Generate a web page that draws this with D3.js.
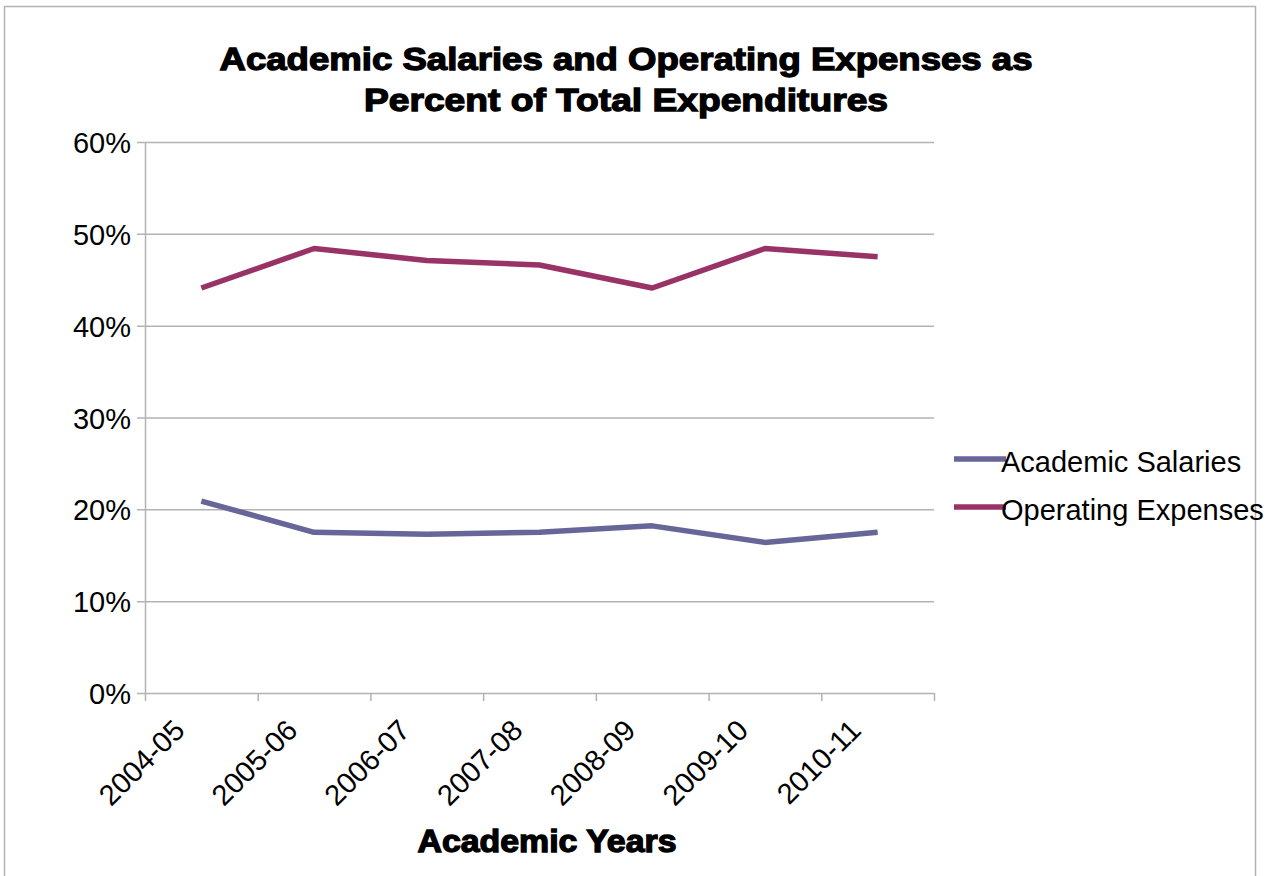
<!DOCTYPE html>
<html>
<head>
<meta charset="utf-8">
<script src="https://cdn.jsdelivr.net/npm/d3@7"></script>
<style>
  body { margin: 0; background: #fff; }
  text { font-family: "Liberation Sans", Arial, sans-serif; fill: #000; }
</style>
</head>
<body>
<svg id="chart" width="1275" height="876"></svg>
<script>
const YEARS = ['2004-05', '2005-06', '2006-07', '2007-08', '2008-09', '2009-10', '2010-11']
const SALARIES = [20.9, 17.5, 17.3, 17.5, 18.2, 16.4, 17.5]
const OPERATING = [44.1, 48.4, 47.1, 46.6, 44.1, 48.4, 47.5]
const Y_TICKS = [0, 10, 20, 30, 40, 50, 60]
const SERIES_NAMES = ['Academic Salaries', 'Operating Expenses']
const SERIES_COLORS = ['#666699', '#993366']

const svg = d3.select('#chart')
const grey = '#b3b3b3'

// outer frame
svg.append('rect')
  .attr('x', 4.5).attr('y', 6.5)
  .attr('width', 1251).attr('height', 900)
  .attr('fill', 'none').attr('stroke', grey).attr('stroke-width', 1.5)

const plot = { left: 145, right: 934, top: 142, bottom: 693 }

const x = d3.scaleBand().domain(YEARS).range([plot.left, plot.right]).padding(0)
const y = d3.scaleLinear().domain([0, 60]).range([plot.bottom, plot.top])

// gridlines
svg.append('g').selectAll('line')
  .data(Y_TICKS)
  .join('line')
  .attr('x1', plot.left - 8).attr('x2', plot.right)
  .attr('y1', d => y(d) + 0.5).attr('y2', d => y(d) + 0.5)
  .attr('stroke', grey).attr('stroke-width', 1.5)

// y axis line
svg.append('line')
  .attr('x1', plot.left + 0.5).attr('x2', plot.left + 0.5)
  .attr('y1', plot.top).attr('y2', plot.bottom)
  .attr('stroke', grey).attr('stroke-width', 1.5)

// y tick labels
svg.append('g').selectAll('text')
  .data(Y_TICKS)
  .join('text')
  .attr('x', 131)
  .attr('y', d => y(d) + 11)
  .attr('text-anchor', 'end')
  .style('font-size', '29px')
  .text(d => d + '%')

// x ticks at band edges
const edges = YEARS.map(d => x(d)).concat([plot.right])
svg.append('g').selectAll('line')
  .data(edges)
  .join('line')
  .attr('x1', d => d + 0.5).attr('x2', d => d + 0.5)
  .attr('y1', plot.bottom).attr('y2', plot.bottom + 8)
  .attr('stroke', grey).attr('stroke-width', 1.5)

// x labels
svg.append('g').selectAll('text')
  .data(YEARS)
  .join('text')
  .attr('transform', d => `translate(${x(d) + x.bandwidth() / 2 - 15},${plot.bottom + 39}) rotate(-45)`)
  .attr('text-anchor', 'end')
  .style('font-size', '29px')
  .text(d => d)

// lines
const line = d3.line()
  .x((d, i) => x(YEARS[i]) + x.bandwidth() / 2)
  .y(d => y(d))

;[SALARIES, OPERATING].forEach((vals, i) => {
  svg.append('path')
    .datum(vals)
    .attr('d', line)
    .attr('fill', 'none')
    .attr('stroke', SERIES_COLORS[i])
    .attr('stroke-width', 5.5)
    .attr('stroke-linejoin', 'round')
})

// legend
const legend = svg.append('g')
SERIES_NAMES.forEach((name, i) => {
  const ly = 459 + i * 48
  legend.append('line')
    .attr('x1', 954).attr('x2', 1006)
    .attr('y1', ly).attr('y2', ly)
    .attr('stroke', SERIES_COLORS[i]).attr('stroke-width', 5.5)
  legend.append('text')
    .attr('x', 1001).attr('y', ly + 13)
    .style('font-size', '29px')
    .text(name)
})

// titles
const title = ['Academic Salaries and Operating Expenses as', 'Percent of Total Expenditures']
const titleWidths = [813, 524]
svg.append('g').selectAll('text')
  .data(title)
  .join('text')
  .attr('x', 626)
  .attr('y', (d, i) => 70 + i * 41)
  .attr('text-anchor', 'middle')
  .attr('textLength', (d, i) => titleWidths[i])
  .attr('lengthAdjust', 'spacingAndGlyphs')
  .style('font-size', '32px')
  .style('font-weight', 'bold')
  .style('stroke', '#000').style('stroke-width', 1.3)
  .text(d => d)

svg.append('text')
  .attr('x', 547).attr('y', 852)
  .attr('text-anchor', 'middle')
  .attr('textLength', 259)
  .attr('lengthAdjust', 'spacingAndGlyphs')
  .style('font-size', '31px')
  .style('font-weight', 'bold')
  .style('stroke', '#000').style('stroke-width', 1.3)
  .text('Academic Years')
</script>
</body>
</html>
